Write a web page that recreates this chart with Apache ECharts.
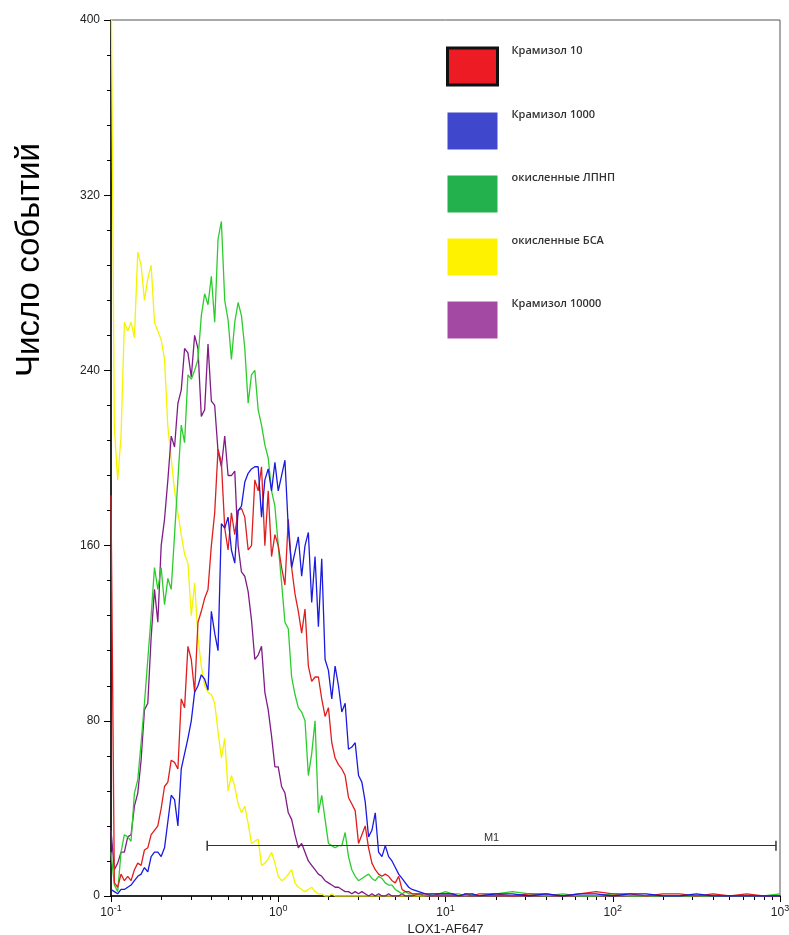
<!DOCTYPE html>
<html>
<head>
<meta charset="utf-8">
<script src="https://cdn.jsdelivr.net/npm/echarts@6/dist/echarts.min.js"></script>
<style>
html,body{margin:0;padding:0;background:#fff;}
#chart{width:789px;height:935px;}
</style>
</head>
<body>
<div id="chart"></div>
<script>
// log10 of channel positions (histogram bins)
const channelExp = [
  -1.00,-0.98,-0.96,-0.94,-0.92,-0.90,-0.88,-0.86,-0.84,-0.82,
  -0.80,-0.78,-0.76,-0.74,-0.72,-0.70,-0.68,-0.66,-0.64,-0.62,
  -0.60,-0.58,-0.56,-0.54,-0.52,-0.50,-0.48,-0.46,-0.44,-0.42,
  -0.40,-0.38,-0.36,-0.34,-0.32,-0.30,-0.28,-0.26,-0.24,-0.22,
  -0.20,-0.18,-0.16,-0.14,-0.12,-0.10,-0.08,-0.06,-0.04,-0.02,
   0.00, 0.02, 0.04, 0.06, 0.08, 0.10, 0.12, 0.14, 0.16, 0.18,
   0.20, 0.22, 0.24, 0.26, 0.28, 0.30, 0.32, 0.34, 0.36, 0.38,
   0.40, 0.42, 0.44, 0.46, 0.48, 0.50, 0.52, 0.54, 0.56, 0.58,
   0.60, 0.62, 0.64, 0.66, 0.68, 0.70, 0.72, 0.74, 0.76, 0.78, 0.80,
   0.84, 0.88, 0.92, 0.96, 1.00, 1.04, 1.08, 1.12, 1.16, 1.20,
   1.3, 1.4, 1.5, 1.6, 1.7, 1.8, 1.9, 2.0, 2.1, 2.2, 2.3, 2.4, 2.5, 2.6, 2.7, 2.8, 2.9, 3.0
];

const seriesNames = ['Крамизол 10', 'Крамизол 1000', 'окисленные ЛПНП', 'окисленные БСА', 'Крамизол 10000'];

const kramizol10 = [
  183, 6, 4, 10, 7, 9, 7, 12, 15, 14,
  21, 22, 28, 30, 32, 40, 50, 52, 62, 61,
  58, 90, 86, 114, 108, 93, 125, 130, 136, 140,
  160, 175, 204, 198, 168, 158, 175, 165, 176, 177,
  173, 158, 160, 190, 185, 196, 160, 185, 155, 165,
  160, 150, 142, 172, 150, 138, 130, 120, 131, 105,
  98, 100, 100, 90, 82, 86, 70, 63, 60, 58,
  55, 45, 42, 39, 24, 28, 32, 22, 15, 12,
  10, 9, 10, 9, 7, 6, 9, 3, 2, 2, 1,
  1, 1, 0, 1, 1, 1, 0, 1, 0, 1,
  1, 0, 1, 1, 0, 1, 2, 1, 1, 0, 1, 1, 0, 1, 0, 1, 0, 0
];
const kramizol1000 = [
  3, 2, 1, 3, 3, 4, 5, 7, 9, 10,
  13, 11, 18, 20, 20, 18, 22, 34, 46, 44,
  32, 58, 65, 72, 80, 93, 96, 101, 99, 94,
  130, 120, 112, 170, 168, 173, 158, 152, 176, 178,
  189, 193, 195, 196, 196, 173, 190, 195, 185, 198,
  185, 192, 199, 168, 150, 157, 164, 146, 160, 166,
  134, 155, 123, 154, 108, 103, 90, 105, 96, 84,
  88, 67, 68, 70, 55, 52, 43, 27, 30, 38,
  20, 18, 23, 18, 16, 13, 10, 8, 6, 4, 3,
  2, 1, 1, 1, 1, 1, 0, 1, 1, 0,
  1, 1, 0, 1, 0, 1, 1, 0, 1, 1, 0, 0, 1, 0, 0, 0, 0, 0
];
const oxLDL = [
  20, 5, 2, 20, 28, 27, 25, 47, 53, 70,
  88, 108, 128, 150, 140, 150, 133, 145, 140, 165,
  190, 215, 207, 238, 236, 240, 245, 265, 275, 270,
  283, 262, 300, 308, 272, 263, 245, 262, 271, 265,
  250, 225, 238, 240, 222, 215, 206, 200, 185, 178,
  160, 143, 125, 122, 100, 92, 86, 84, 80, 55,
  65, 80, 38, 46, 35, 24, 23, 22, 23, 23,
  29, 18, 12, 9, 7, 8, 9, 10, 8, 7,
  9, 8, 6, 5, 5, 3, 2, 1, 2, 1, 1,
  1, 0, 1, 1, 2, 1, 1, 0, 1, 0,
  1, 2, 1, 0, 1, 0, 0, 1, 0, 0, 0, 0, 0, 0, 0, 0, 0, 1
];
const oxBSA = [
  430, 214, 190, 210, 262, 258, 262, 255, 294, 288,
  272, 282, 288, 262, 258, 254, 245, 214, 200, 185,
  175, 165, 156, 152, 128, 143, 118, 105, 96, 93,
  92, 88, 75, 63, 72, 48, 55, 50, 42, 38,
  41, 33, 24, 25, 26, 14, 15, 17, 20, 15,
  9, 7, 8, 10, 12, 6, 4, 3, 2, 3,
  4, 2, 1, 1, 0, 0, 1, 0, 0, 0,
  0, 0, 0, 0, 0, 0, 0, 0, 0, 0,
  0, 0, 0, 0, 0, 0, 0, 0, 0, 0, 0,
  0, 0, 0, 0, 0, 0, 0, 0, 0, 0,
  0, 0, 0, 0, 0, 0, 0, 0, 0, 0, 0, 0, 0, 0, 0, 0, 0, 0
];
const kramizol10000 = [
  30, 12, 15, 20, 20, 27, 28, 41, 47, 62,
  85, 88, 118, 140, 125, 160, 172, 190, 210, 205,
  225, 231, 250, 248, 237, 256, 250, 219, 222, 252,
  226, 224, 203, 196, 210, 192, 192, 194, 160, 148,
  146, 139, 126, 108, 110, 114, 93, 85, 73, 59,
  59, 50, 47, 38, 35, 28, 22, 24, 20, 16,
  14, 12, 10, 9, 7, 6, 5, 4, 4, 3,
  2, 2, 1, 2, 1, 2, 1, 0, 1, 0,
  1, 0, 0, 1, 0, 0, 0, 1, 0, 0, 0,
  1, 0, 0, 0, 0, 0, 0, 0, 0, 0,
  0, 0, 0, 0, 0, 0, 0, 0, 0, 0, 0, 0, 0, 0, 0, 0, 0, 0
];

const xMajorTicks = [0.1, 1, 10, 100, 1000];
const xMinorTicks = [0.2,0.3,0.4,0.5,0.6,0.7,0.8,0.9, 2,3,4,5,6,7,8,9, 20,30,40,50,60,70,80,90, 200,300,400,500,600,700,800,900];
const gateM1 = [0.376, 946];
const gateLevel = 23;

const lineColors = ['#e01e1e', '#1a1ae0', '#2ccc2c', '#f4f400', '#801c88'];
const legendColors = ['#ED1C24', '#3F48CC', '#22B14C', '#FFF200', '#A349A4'];

function toPairs(arr){ return channelExp.map((e,i)=>[Math.pow(10,e), arr[i]]); }
const allData = [kramizol10, kramizol1000, oxLDL, oxBSA, kramizol10000];
const drawOrder = [3, 4, 2, 0, 1];

const chart = echarts.init(document.getElementById('chart'), null, {renderer:'canvas'});

const series = drawOrder.map((idx, k) => ({
  name: seriesNames[idx],
  type: 'line',
  data: toPairs(allData[idx]),
  showSymbol: false,
  symbol: 'none',
  lineStyle: {color: lineColors[idx], width: 1.3},
  itemStyle: {color: lineColors[idx]},
  z: 2 + k,
  animation: false
}));
series.push({
  type: 'line', data: [], silent: true, animation:false,
  markLine: {
    silent: true, animation: false,
    symbol: ['rect','rect'], symbolSize: [10, 1.5],
    lineStyle: {color: '#333', width: 1.2, type: 'solid'},
    label: {show: true, formatter: 'M1', position: 'insideMiddleTop', color: '#333', fontSize: 11, fontFamily: 'Liberation Sans', distance: 2},
    data: [[{coord: [gateM1[0], gateLevel]}, {coord: [gateM1[1], gateLevel]}]]
  }
});

const legendData = seriesNames.map((n,i)=>{
  const d = {name: n, itemStyle: {color: legendColors[i], borderWidth: 0}};
  if (i === 0) d.itemStyle = {color: legendColors[i], borderColor: '#111', borderWidth: 3};
  return d;
});

chart.setOption({
  animation: false,
  backgroundColor: '#fff',
  grid: {left: 111, right: 9, top: 20, bottom: 39, outerBoundsMode: 'none', containLabel: false,
         show: true, borderColor: '#555', borderWidth: 1, backgroundColor: 'transparent'},
  legend: {
    orient: 'vertical', left: 446, top: 45, padding: 0,
    icon: 'rect', itemWidth: 50, itemHeight: 37, itemGap: 23,
    data: legendData,
    formatter: name => '{t|' + name + '}',
    textStyle: {
      fontFamily: 'Open Sans', fontWeight: 600, fontSize: 11, color: '#333',
      rich: {t: {fontFamily: 'Open Sans', fontWeight: 600, fontSize: 11, color: '#333', padding: [0, 0, 32, 9]}}
    },
    selectedMode: false
  },
  xAxis: [{
    type: 'log', logBase: 10, min: 0.1, max: 1000,
    name: 'LOX1-AF647', nameLocation: 'middle', nameGap: 24,
    nameTextStyle: {fontFamily: 'Liberation Sans', fontSize: 13, color: '#222'},
    axisLine: {show: true, lineStyle: {color: '#000', width: 1.5}},
    axisTick: {show: true, length: 6, inside: false, customValues: xMajorTicks, lineStyle:{color:'#000'}},
    axisLabel: {
      show: true, customValues: xMajorTicks, margin: 8,
      formatter: v => '{b|10}{s|' + Math.round(Math.log10(v)) + '}',
      rich: {
        b: {fontFamily: 'Liberation Sans', fontSize: 12, color: '#222'},
        s: {fontFamily: 'Liberation Sans', fontSize: 9, color: '#222', padding: [0,0,8,0]}
      }
    },
    splitLine: {show: false}
  }, {
    type: 'log', logBase: 10, min: 0.1, max: 1000, position: 'bottom',
    axisLine: {show: false},
    axisTick: {show: true, length: 4, customValues: xMinorTicks, lineStyle:{color:'#000'}},
    axisLabel: {show: false},
    splitLine: {show: false}
  }],
  yAxis: {
    type: 'value', min: 0, max: 400, interval: 80,
    axisLine: {show: true, lineStyle: {color: '#000', width: 1.5}},
    axisTick: {show: true, length: 7, lineStyle:{color:'#000'}},
    minorTick: {show: true, splitNumber: 5, length: 4, lineStyle:{color:'#000'}},
    axisLabel: {fontFamily: 'Liberation Sans', fontSize: 12, color: '#222', margin: 11},
    splitLine: {show: false}
  },
  graphic: [{
    type: 'text', x: 30, y: 260, rotation: Math.PI/2,
    style: {text: 'Число событий', font: '33px "Liberation Sans"', fill: '#000', textAlign: 'center', textVerticalAlign: 'middle'}
  }],
  series: series
});
</script>
</body>
</html>
